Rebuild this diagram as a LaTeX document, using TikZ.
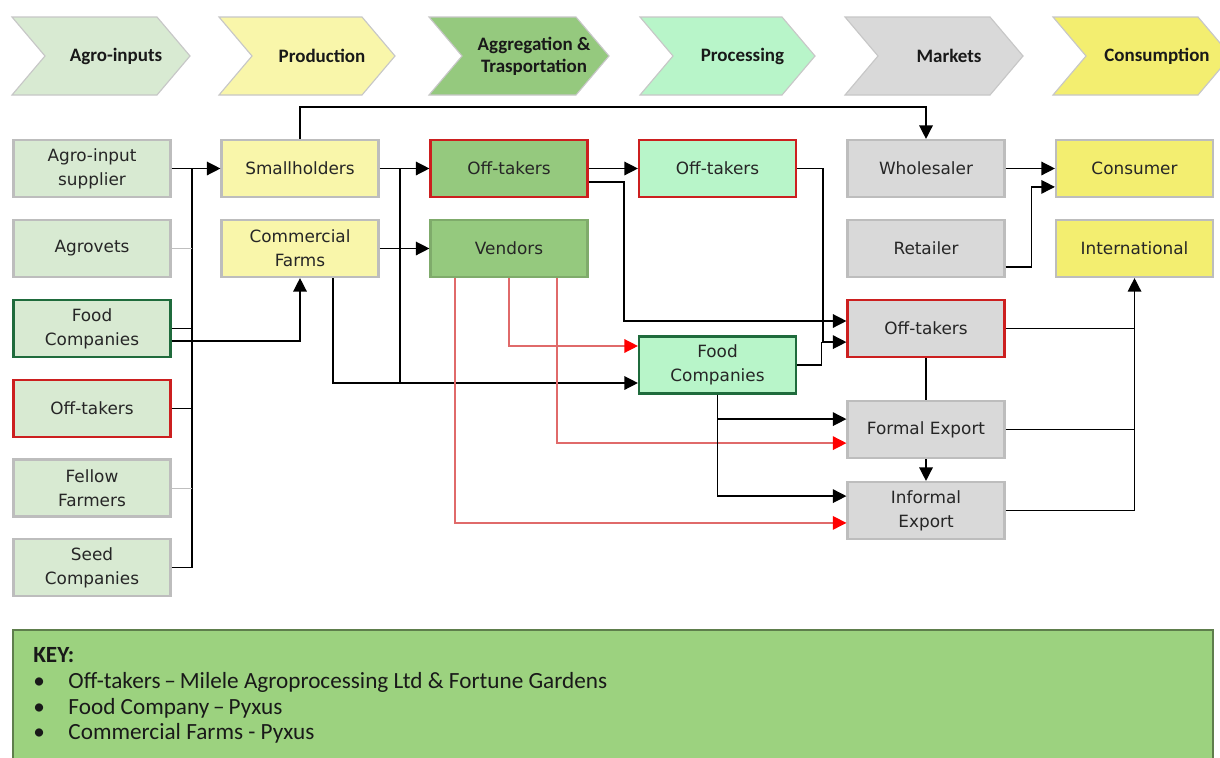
\documentclass[tikz,border=0pt]{standalone}
\usepackage{fontspec}
\setmainfont{DejaVu Sans}
\newfontfamily\keyfont{Carlito}
\usetikzlibrary{arrows.meta}

\definecolor{inputfill}{HTML}{D8EAD2}
\definecolor{prodfill}{HTML}{F9F6AA}
\definecolor{aggfill}{HTML}{95C97E}
\definecolor{procfill}{HTML}{B8F5C9}
\definecolor{mktfill}{HTML}{D9D9D9}
\definecolor{consfill}{HTML}{F3EE70}
\definecolor{keyfill}{HTML}{9CD27F}
\definecolor{boxline}{HTML}{BDBDBD}
\definecolor{redline}{HTML}{CC1F1F}
\definecolor{greenline}{HTML}{1F6B3C}
\definecolor{redflow}{HTML}{E06A6A}

\tikzset{
  box/.style={draw=boxline, line width=1.5pt, fill=#1, minimum width=3.925cm,
    minimum height=1.425cm, inner sep=0pt, align=center, text=black!85,
    font=\fontsize{12}{17}\selectfont},
  redbox/.style={box=#1, draw=redline},
  greenbox/.style={box=#1, draw=greenline},
  stage/.style={draw=black!22, line width=0.8pt},
  stagetext/.style={align=center, text=black!90, font=\keyfont\bfseries\fontsize{13.5}{15.5}\selectfont},
  link/.style={line width=1pt, ->},
  flow/.style={line width=1pt},
  thinflow/.style={line width=0.6pt, black!25},
  redlink/.style={line width=1pt, redflow, -{Triangle[length=3.4mm,width=3.4mm,color=red]}},
  >={Triangle[length=3.4mm,width=3.4mm]}
}

\begin{document}
\begin{tikzpicture}[x=0.025cm, y=-0.025cm]

  \useasboundingbox (0,0) rectangle (1220,757);
  \clip (0,0) rectangle (1220,757);
  \fill [white] (0,0) rectangle (1220,757);

  % stages along the top
  \foreach \l/\r/\c/\t [count=\i] in {12/190/inputfill/Agro-inputs,
      219/395/prodfill/Production, 429/609/aggfill/{Aggregation \&\\Trasportation},
      640/815/procfill/Processing, 845/1023/mktfill/Markets,
      1053/1231/consfill/Consumption}{
    \draw [stage, fill=\c] (\l,17) -- (\r-33,17) -- (\r,56) -- (\r-33,95)
      -- (\l,95) -- (\l+33,56) -- cycle;
    \node [stagetext] (stage\i) at ({(\l+30+\r)/2},56) {\t};
  }

  % agro-inputs
  \node [box=inputfill] (ais) at (92,168.5) {Agro-input\\supplier};
  \node [box=inputfill] (agv) at (92,248.5) {Agrovets};
  \node [greenbox=inputfill] (fci) at (92,328.5) {Food\\Companies};
  \node [redbox=inputfill] (oti) at (92,408.5) {Off-takers};
  \node [box=inputfill] (ffm) at (92,488) {Fellow\\Farmers};
  \node [box=inputfill] (sdc) at (92,567.5) {Seed\\Companies};

  % production
  \node [box=prodfill] (sml) at (300,168.5) {Smallholders};
  \node [box=prodfill] (cmf) at (300,248.5) {Commercial\\Farms};

  % aggregation
  \node [redbox=aggfill] (ota) at (509,168.5) {Off-takers};
  \node [box=aggfill, draw=aggfill!85!black] (vnd) at (509,248.5) {Vendors};

  % processing
  \node [redbox=procfill] (otp) at (717.5,168.5) {Off-takers};
  \node [greenbox=procfill] (fcp) at (717.5,365) {Food\\Companies};

  % markets
  \node [box=mktfill] (whs) at (926,168.5) {Wholesaler};
  \node [box=mktfill] (rtl) at (926,248.5) {Retailer};
  \node [redbox=mktfill] (otm) at (926,328.5) {Off-takers};
  \node [box=mktfill] (fex) at (926,429.5) {Formal Export};
  \node [box=mktfill] (iex) at (926,510.5) {Informal\\Export};

  % consumption
  \node [box=consfill] (cns) at (1134.5,168.5) {Consumer};
  \node [box=consfill] (intl) at (1134.5,248.5) {International};

  % inputs bus
  \coordinate (busT) at (192,168.5);
  \draw [link] (ais.east) -- (sml.west);
  \draw [flow] (sdc.east) -- (sdc.east -| busT) -- (busT);
  \draw [thinflow] (agv.east) -- (agv.east -| busT);
  \draw [flow] (fci.east) -- (fci.east -| busT);
  \draw [flow] (oti.east) -- (oti.east -| busT);
  \draw [thinflow] (ffm.east) -- (ffm.east -| busT);
  \draw [link] ([yshift=-3.1mm]fci.east) -| (cmf.south);

  % production to aggregation
  \coordinate (sj) at (400,383);
  \draw [link] (sml.north) -- ++(0,-32) -| (whs.north);
  \draw [link] (sml.east) -- (ota.west);
  \draw [link] (cmf.east) -- (vnd.west);
  \draw [link] (sml.east -| sj) -- (sj) -- (sj -| fcp.west);
  \draw [flow] ([xshift=8.25mm]cmf.south) |- (sj);

  % aggregation onwards
  \coordinate (ob) at (624,321);
  \draw [link] (ota.east) -- (otp.west);
  \draw [link] ([yshift=-3.4mm]ota.east) -| (ob) -- (ob -| otm.west);
  \draw [redlink] ([xshift=-13.5mm]vnd.south) |- ([yshift=-3.1mm]iex.west);
  \draw [redlink] (vnd.south) |- ([yshift=4.75mm]fcp.west);
  \draw [redlink] ([xshift=12mm]vnd.south) |- ([yshift=-3.4mm]fex.west);

  % processing onwards
  \draw [link] (otp.east) -- ++(26,0) |- ([yshift=-3.4mm]otm.west);
  \draw [flow] (fcp.east) -| ([xshift=-6.25mm,yshift=-3.4mm]otm.west);
  \draw [link] (fcp.south) |- ([yshift=2.6mm]fex.west);
  \draw [link] (fcp.south) |- ([yshift=3.6mm]iex.west);

  % markets
  \draw [flow] (otm.south) -- (fex.north);
  \draw [link] (fex.south) -- (iex.north);
  \draw [link] (whs.east) -- (cns.west);
  \draw [link] ([yshift=-4.6mm]rtl.east) -- ++(26,0) |- ([yshift=-4.6mm]cns.west);
  \draw [flow] (otm.east) -- (otm.east -| intl.south);
  \draw [flow] (fex.east) -- (fex.east -| intl.south);
  \draw [link] (iex.east) -| (intl.south);

  % key
  \draw [fill=keyfill, draw=keyfill!60!black, line width=0.8pt] (13,630) rectangle (1213,770);
  \node [anchor=north west, align=left, inner sep=0pt, text=black!90,
    font=\keyfont\fontsize{16.5}{18.4}\selectfont] (keytxt) at (33,647)
    {\textbf{KEY:}\\
     \makebox[8.8mm][l]{\textbullet}Off-takers\,–\,Milele Agroprocessing Ltd \& Fortune Gardens\\
     \makebox[8.8mm][l]{\textbullet}Food Company\,–\,Pyxus\\
     \makebox[8.8mm][l]{\textbullet}Commercial Farms - Pyxus};

\end{tikzpicture}
\end{document}
